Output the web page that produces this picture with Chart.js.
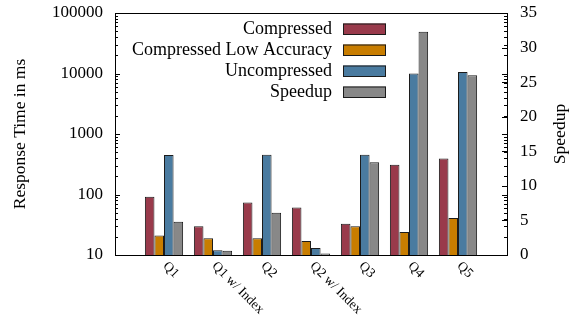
<!DOCTYPE html>
<html>
<head>
<meta charset="utf-8">
<script src="https://cdn.jsdelivr.net/npm/chart.js@4/dist/chart.umd.min.js"></script>
<style>
  html, body { margin: 0; padding: 0; background: #fff; }
  #wrap { width: 583px; height: 321px; position: relative; }
</style>
</head>
<body>
<div id="wrap"><canvas id="c"></canvas></div>
<script>
// Query response times (ms, log scale) and speedup factor per query
const categories = ['Q1', 'Q1 w/ Index', 'Q2', 'Q2 w/ Index', 'Q3', 'Q4', 'Q5'];
const compressed = [92, 30, 74, 61, 33, 310, 395];
const compressedLowAccuracy = [21, 19, 19, 17, 30, 24, 41];
const uncompressed = [450, 12, 455, 13, 455, 10000, 10600];
const speedup = [4.8, 0.6, 6.1, 0.2, 13.4, 32.3, 26.0];
const responseTicks = [10, 100, 1000, 10000, 100000];
const speedupTicks = [0, 5, 10, 15, 20, 25, 30, 35];

const SERIF = '"Liberation Serif", "Times New Roman", serif';

// one empty slot on each side of the groups
const pad = arr => [null, ...arr, null];
const labels = ['', ...categories, ''];

const frame = {
  id: 'frame',
  afterDraw(chart) {
    const ctx = chart.ctx;
    const a = chart.chartArea;
    const y = chart.scales.y, y2 = chart.scales.y2, x = chart.scales.x;
    ctx.save();
    ctx.strokeStyle = '#000';
    ctx.lineWidth = 1;
    // box around the plot
    ctx.strokeRect(Math.round(a.left) + 0.5, Math.round(a.top) + 0.5,
                   Math.round(a.right - a.left), Math.round(a.bottom - a.top));
    // inward tick marks: log decades + minor ticks on both sides
    ctx.beginPath();
    for (let d = 10; d <= 100000; d *= 10) {
      const py = Math.round(y.getPixelForValue(d)) + 0.5;
      ctx.moveTo(a.left, py); ctx.lineTo(a.left + 5, py);
      ctx.moveTo(a.right, py); ctx.lineTo(a.right - 5, py);
      if (d < 100000) {
        for (let m = 2; m <= 9; m++) {
          const pm = Math.round(y.getPixelForValue(m * d)) + 0.5;
          ctx.moveTo(a.left, pm); ctx.lineTo(a.left + 3, pm);
          ctx.moveTo(a.right, pm); ctx.lineTo(a.right - 3, pm);
        }
      }
    }
    speedupTicks.forEach(v => {
      const py = Math.round(y2.getPixelForValue(v)) + 0.5;
      ctx.moveTo(a.right, py); ctx.lineTo(a.right - 5, py);
    });
    ctx.stroke();

    // rotated category labels
    ctx.fillStyle = '#000';
    ctx.font = '13.5px ' + SERIF;
    ctx.textAlign = 'left';
    ctx.textBaseline = 'middle';
    categories.forEach((c, i) => {
      const px = x.getPixelForValue(i + 1);
      ctx.save();
      ctx.translate(px + 1, a.bottom + 9);
      ctx.rotate(Math.PI / 4);
      ctx.fillText(c, 0, 0);
      ctx.restore();
    });

    // right axis title
    ctx.save();
    ctx.font = '17.5px ' + SERIF;
    ctx.textAlign = 'center';
    ctx.translate(560, (a.top + a.bottom) / 2);
    ctx.rotate(-Math.PI / 2);
    ctx.fillText('Speedup', 0, 0);
    ctx.restore();

    // legend: text right-aligned, swatch on the right
    ctx.font = '18px ' + SERIF;
    ctx.textAlign = 'right';
    chart.data.datasets.forEach((ds, i) => {
      const cy = a.top + 16 + i * 21;
      ctx.fillStyle = '#000';
      ctx.fillText(ds.label, 332, cy);
      ctx.fillStyle = ds.backgroundColor;
      ctx.fillRect(343, cy - 5.5, 43, 11);
      ctx.strokeStyle = '#1a1a1a';
      ctx.strokeRect(343.5, cy - 5, 42, 10.5);
    });
    ctx.restore();
  }
};

const barStyle = { borderWidth: 1, borderColor: '#1c1c1c', categoryPercentage: 0.78, barPercentage: 1.0 };

// keep the plot box exactly where the layout padding puts it
const noOverhang = s => { s.paddingTop = 0; s.paddingBottom = 0; s.paddingLeft = 0; s.paddingRight = 0; };

new Chart(document.getElementById('c'), {
  type: 'bar',
  data: {
    labels: labels,
    datasets: [
      { label: 'Compressed', data: pad(compressed), backgroundColor: '#993a4b', yAxisID: 'y', ...barStyle },
      { label: 'Compressed Low Accuracy', data: pad(compressedLowAccuracy), backgroundColor: '#c87d00', yAxisID: 'y', ...barStyle },
      { label: 'Uncompressed', data: pad(uncompressed), backgroundColor: '#4a7ba0', yAxisID: 'y', ...barStyle },
      { label: 'Speedup', data: pad(speedup), backgroundColor: '#888888', yAxisID: 'y2', ...barStyle }
    ]
  },
  options: {
    responsive: true,
    maintainAspectRatio: false,
    animation: false,
    layout: { padding: { top: 13, left: 0, right: 0, bottom: 0 } },
    plugins: { legend: { display: false }, tooltip: { enabled: false } },
    scales: {
      x: {
        offset: false,
        grid: { display: false, drawTicks: false },
        border: { display: false },
        ticks: { display: false },
        afterFit: s => { s.height = 66; noOverhang(s); }
      },
      y: {
        type: 'logarithmic',
        position: 'left',
        min: 10, max: 100000,
        grid: { display: false, drawTicks: false },
        border: { display: false },
        afterBuildTicks: s => { s.ticks = responseTicks.map(v => ({ value: v })); },
        ticks: {
          autoSkip: false, padding: 12, color: '#000',
          font: { family: SERIF, size: 17 },
          callback: v => String(v)
        },
        title: {
          display: true, text: 'Response Time in ms', color: '#000',
          font: { family: SERIF, size: 17.5 }, padding: { top: 10, bottom: 0 }
        },
        afterFit: s => { s.width = 115; noOverhang(s); }
      },
      y2: {
        type: 'linear',
        position: 'right',
        min: 0, max: 35,
        grid: { display: false, drawTicks: false },
        border: { display: false },
        afterBuildTicks: s => { s.ticks = speedupTicks.map(v => ({ value: v })); },
        ticks: {
          autoSkip: false, padding: 13, color: '#000',
          font: { family: SERIF, size: 17 }
        },
        afterFit: s => { s.width = 76; noOverhang(s); }
      }
    }
  },
  plugins: [frame]
});
</script>
</body>
</html>
